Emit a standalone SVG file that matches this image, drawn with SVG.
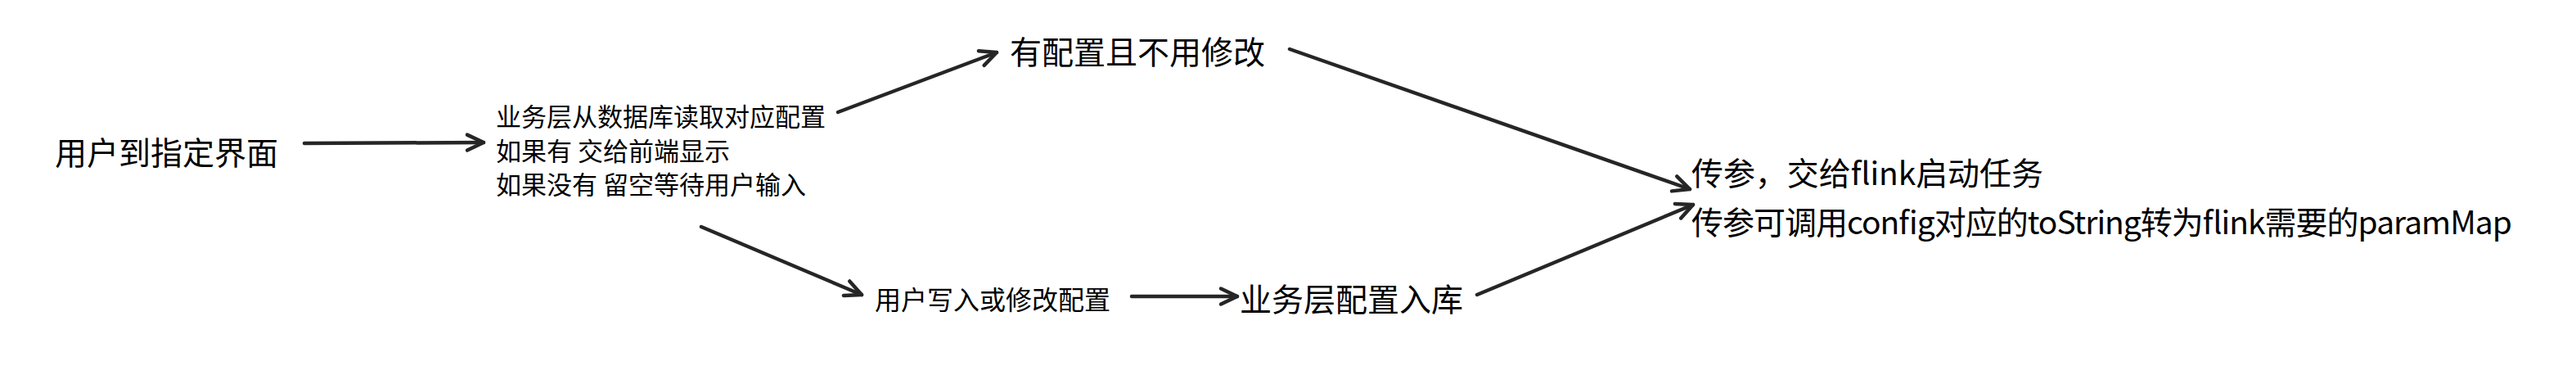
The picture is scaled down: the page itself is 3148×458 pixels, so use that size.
<svg xmlns="http://www.w3.org/2000/svg" width="3148" height="458" viewBox="0 0 3148 458">
  <style>
    .t { font-family: "Noto Sans CJK SC", "Noto Sans", "Liberation Sans", sans-serif; fill: #000000; }
    .big { font-size: 39px; }
    .mid { font-size: 32px; }
    .small { font-size: 31px; }
    .conn { fill: none; stroke: #262626; stroke-width: 4.5; stroke-linecap: round; stroke-linejoin: round; }
  </style>
  <defs>
    <marker id="arrow" markerUnits="userSpaceOnUse" markerWidth="40" markerHeight="40" viewBox="-30 -20 40 40" refX="0" refY="0" orient="auto" overflow="visible">
      <path d="M -20 -9.5 L 0 0 L -20 9.5" fill="none" stroke="#262626" stroke-width="4.5" stroke-linecap="round" stroke-linejoin="round"/>
    </marker>
  </defs>
  <rect width="3148" height="458" fill="#ffffff"/>

  <g id="connectors">
    <line class="conn" x1="372" y1="175" x2="591" y2="174" marker-end="url(#arrow)"/>
    <line class="conn" x1="1024" y1="137" x2="1218" y2="64" marker-end="url(#arrow)"/>
    <line class="conn" x1="1576" y1="60" x2="2065" y2="231" marker-end="url(#arrow)"/>
    <line class="conn" x1="857" y1="277" x2="1053" y2="360" marker-end="url(#arrow)"/>
    <line class="conn" x1="1383" y1="362" x2="1512" y2="362" marker-end="url(#arrow)"/>
    <line class="conn" x1="1805" y1="360" x2="2069" y2="250" marker-end="url(#arrow)"/>
  </g>

  <g id="node-user-page">
    <text class="t big" x="67" y="201">用户到指定界面</text>
  </g>

  <g id="node-read-config">
    <text class="t small" x="606" y="154">业务层从数据库读取对应配置</text>
    <text class="t small" x="606" y="196">如果有 交给前端显示</text>
    <text class="t small" x="606" y="237">如果没有 留空等待用户输入</text>
  </g>

  <g id="node-no-change">
    <text class="t big" x="1234" y="78">有配置且不用修改</text>
  </g>

  <g id="node-user-write">
    <text class="t mid" x="1069" y="378">用户写入或修改配置</text>
  </g>

  <g id="node-save">
    <text class="t big" x="1515" y="380">业务层配置入库</text>
  </g>

  <g id="node-flink">
    <text class="t big" x="2067" y="226" textLength="430">传参，交给flink启动任务</text>
    <text class="t big" x="2067" y="286" textLength="1003">传参可调用config对应的toString转为flink需要的paramMap</text>
  </g>
</svg>
